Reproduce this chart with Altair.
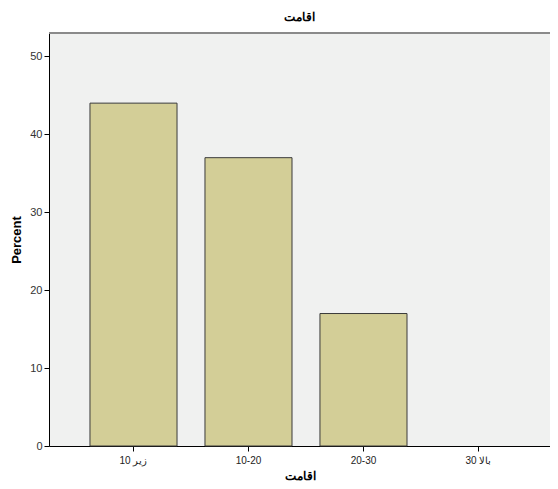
import altair as alt
import pandas as pd

categories = ["زیر 10", "10-20", "20-30", "بالا 30"]
percents = [44, 37, 17, 0]
y_ticks = [0, 10, 20, 30, 40, 50]

df = pd.DataFrame({"cat": categories, "pct": percents})

font = "Liberation Sans"

bars = alt.Chart(df).mark_bar(
    color="#d3ce97", stroke="#3a3a3a", strokeWidth=1
).encode(
    x=alt.X("cat:N", sort=categories, title="اقامت",
            scale=alt.Scale(paddingInner=0.243, paddingOuter=0.3, align=0.594),
            axis=alt.Axis(labelAngle=0, labelFontSize=10, labelColor="#222222",
                          titleFontSize=12, titleFontWeight="bold", titlePadding=5,
                          tickColor="#000000", domainColor="#000000", tickSize=5,
                          labelPadding=4)),
    y=alt.Y("pct:Q", title="Percent",
            scale=alt.Scale(domain=[0, 53], nice=False),
            axis=alt.Axis(values=y_ticks, grid=False, labelFontSize=11, labelColor="#333333",
                          titleFontSize=13, titleFontWeight="bold", titlePadding=6,
                          tickColor="#000000", domainColor="#000000", tickSize=5,
                          labelPadding=2)),
    strokeOpacity=alt.condition(alt.datum.pct > 0, alt.value(1), alt.value(0)),
)

top_border = alt.Chart(df).mark_rule(color="#8a8a8a", strokeWidth=1.5).encode(
    y=alt.value(0)
)

chart = alt.layer(bars, top_border).properties(
    width=501, height=413,
    title=alt.TitleParams("اقامت", fontSize=12, fontWeight="bold", font=font, offset=8, color="#000000"),
    autosize=alt.AutoSizeParams(type="none"),
    padding={"left": 41, "top": 25, "right": 0, "bottom": 35},
).configure(
    background="white"
).configure_view(
    fill="#f0f1f0", stroke=None, strokeWidth=0
).configure_axis(
    labelFont=font, titleFont=font
)

chart.save("out.html", embed_options={"renderer": "svg", "actions": False})
